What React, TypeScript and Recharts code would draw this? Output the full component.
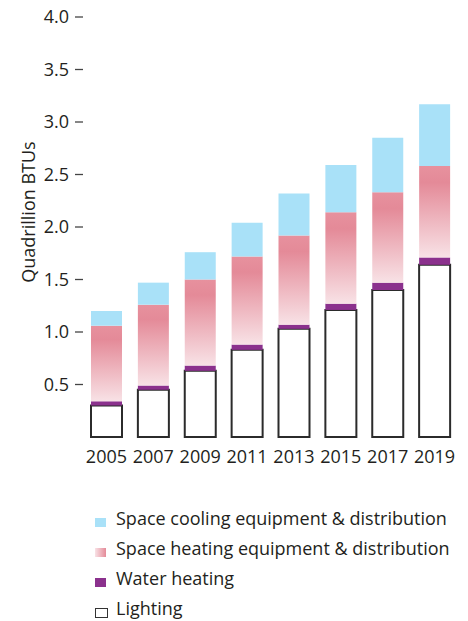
import React from "react";
import {
  BarChart,
  Bar,
  XAxis,
  YAxis,
  Legend,
} from "recharts";

const years = ["2005", "2007", "2009", "2011", "2013", "2015", "2017", "2019"];
const lighting = [0.3, 0.45, 0.63, 0.83, 1.03, 1.21, 1.4, 1.64];
const waterHeating = [0.04, 0.04, 0.05, 0.05, 0.04, 0.06, 0.07, 0.07];
const spaceHeating = [0.72, 0.77, 0.82, 0.84, 0.85, 0.87, 0.86, 0.87];
const spaceCooling = [0.14, 0.21, 0.26, 0.32, 0.4, 0.45, 0.52, 0.59];
const yTicks = [0.5, 1, 1.5, 2, 2.5, 3, 3.5, 4];

const data = years.map((year, i) => ({
  year,
  lighting: lighting[i],
  water: waterHeating[i],
  heating: spaceHeating[i],
  cooling: spaceCooling[i],
}));

const FONT = "'Open Sans', sans-serif";
const TEXT = "#231f20";

const legendItems = [
  { label: "Space cooling equipment & distribution", kind: "cooling" },
  { label: "Space heating equipment & distribution", kind: "heating" },
  { label: "Water heating", kind: "water" },
  { label: "Lighting", kind: "lighting" },
];

function LegendIcon({ kind }: { kind: string }) {
  const base: React.CSSProperties = {
    display: "inline-block",
    width: 11,
    height: 9,
    marginRight: 10,
    verticalAlign: "-2px",
    boxSizing: "border-box",
  };
  if (kind === "cooling") return <span style={{ ...base, background: "#a9e1f8" }} />;
  if (kind === "heating")
    return (
      <span
        style={{ ...base, background: "linear-gradient(to right, #f8e2e6, #e48a98)" }}
      />
    );
  if (kind === "water") return <span style={{ ...base, background: "#8b318d" }} />;
  return (
    <span
      style={{
        ...base,
        width: 13,
        height: 10,
        marginRight: 8,
        verticalAlign: "-3px",
        border: "1.5px solid #333",
        background: "#fff",
      }}
    />
  );
}

function CustomLegend() {
  return (
    <div style={{ height: 154, paddingTop: 36, paddingLeft: 95, boxSizing: "border-box" }}>
      {legendItems.map((item) => (
        <div
          key={item.kind}
          style={{
            height: 30,
            lineHeight: "30px",
            fontFamily: FONT,
            fontSize: 18,
            color: TEXT,
            textAlign: "left",
            whiteSpace: "nowrap",
          }}
        >
          <LegendIcon kind={item.kind} />
          {item.label}
        </div>
      ))}
    </div>
  );
}

function YLabel(props: any) {
  const { viewBox } = props;
  const x = viewBox.x + 28;
  const y = viewBox.y + viewBox.height / 2 - 15;
  return (
    <text
      x={x}
      y={y}
      transform={`rotate(-90, ${x}, ${y})`}
      textAnchor="middle"
      dominantBaseline="central"
      fontFamily={FONT}
      fontSize={18}
      fill={TEXT}
    >
      Quadrillion BTUs
    </text>
  );
}

export default function App() {
  return (
    <div style={{ position: "absolute", left: 0, top: 0, width: 468, height: 621, background: "#fff" }}>
      <BarChart
        width={468}
        height={621}
        data={data}
        margin={{ top: 17, right: 10, bottom: 0, left: 0 }}
      >
        <defs>
          <linearGradient id="heatGrad" x1="0" y1="0" x2="0" y2="1">
            <stop offset="0%" stopColor="#e7919e" />
            <stop offset="18%" stopColor="#e48a98" />
            <stop offset="100%" stopColor="#f8e2e6" />
          </linearGradient>
        </defs>
        <XAxis
          dataKey="year"
          axisLine={false}
          tickLine={false}
          interval={0}
          tickMargin={7}
          tick={{ fontSize: 18, fill: TEXT, fontFamily: FONT }}
        />
        <YAxis
          width={83}
          domain={[0, 4]}
          ticks={yTicks}
          axisLine={false}
          tickLine={{ stroke: "#444", strokeWidth: 1.3 }}
          tickSize={8}
          tickMargin={6}
          tickFormatter={(v: number) => v.toFixed(1)}
          tick={{ fontSize: 18, fill: TEXT, fontFamily: FONT }}
          label={<YLabel />}
        />
        <Legend verticalAlign="bottom" content={<CustomLegend />} wrapperStyle={{ left: 0, width: 468 }} />
        <Bar dataKey="lighting" stackId="a" fill="#ffffff" stroke="#2b2b2b" strokeWidth={2} barSize={31} isAnimationActive={false} />
        <Bar dataKey="water" stackId="a" fill="#8b318d" barSize={31} isAnimationActive={false} />
        <Bar dataKey="heating" stackId="a" fill="url(#heatGrad)" barSize={31} isAnimationActive={false} />
        <Bar dataKey="cooling" stackId="a" fill="#a9e1f8" barSize={31} isAnimationActive={false} />
      </BarChart>
    </div>
  );
}
